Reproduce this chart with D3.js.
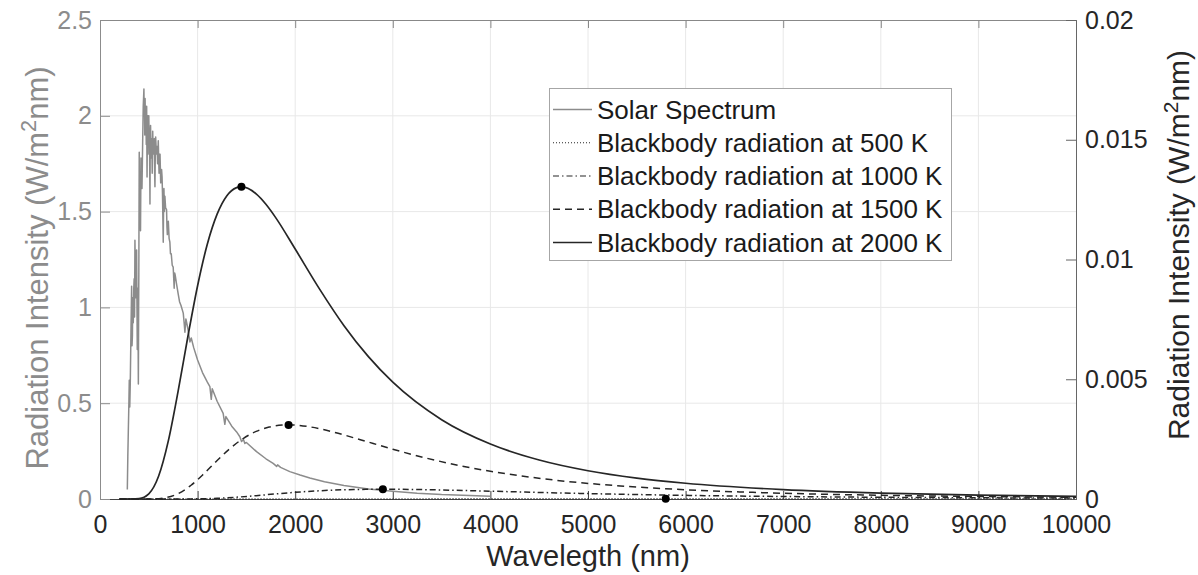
<!DOCTYPE html>
<html><head><meta charset="utf-8">
<script src="https://cdn.jsdelivr.net/npm/d3@7"></script>
<style>
body{margin:0;background:#fff}
text{font-family:"Liberation Sans",Arial,Helvetica,sans-serif}
</style>
</head><body>
<svg id="chart" width="1198" height="575"></svg>
<script>
// ---------- data ----------
const xTickValues = [0,1000,2000,3000,4000,5000,6000,7000,8000,9000,10000];
const leftTickValues = [0,0.5,1,1.5,2,2.5];
const rightTickValues = [0,0.005,0.01,0.015,0.02];
const xLabel = "Wavelegth (nm)";
const yLabelMain = "Radiation Intensity (W/m";
const yLabelSup = "2";
const yLabelEnd = "nm)";

const seriesNames = ["Solar Spectrum","Blackbody radiation at 500 K","Blackbody radiation at 1000 K","Blackbody radiation at 1500 K","Blackbody radiation at 2000 K"];

// Solar spectrum (left axis)
const solarWl  = [280,285,290,296,300,305,310,314,318,324,328,332,336,341,346,350,354,358,362,366,370,375,379,382,386,388,391,393,396,398,402,406,410,415,420,425,430,434,437,440,443,447,450,453,456,459,462,466,470,474,478,482,486,488,492,495,500,504,507,512,515,518,524,530,535,540,545,550,556,560,563,567,570,578,585,590,597,605,610,615,622,631,636,640,648,652,655,660,665,672,682,686,690,700,708,716,722,730,740,750,760,765,770,785,801,815,830,853,862,870,880,900,921,935,960,1000,1050,1100,1126,1140,1150,1200,1262,1279,1290,1350,1400,1433,1450,1470,1484,1500,1604,1700,1774,1810,1820,1850,1945,2050,2150,2300,2500,2750,3000,3250,3500,4000];
const solarVal = [0.05,0.22,0.35,0.50,0.62,0.48,0.60,0.75,0.90,1.11,0.80,0.85,1.05,0.92,1.10,1.15,0.95,1.35,1.20,1.05,1.25,1.30,1.00,0.78,1.05,1.10,0.80,0.60,1.00,1.20,1.81,1.55,1.70,1.40,1.78,1.65,1.62,1.75,1.86,1.95,2.05,2.10,2.14,2.00,2.05,1.90,2.09,1.95,2.02,1.85,2.05,1.68,1.98,2.00,1.80,1.95,2.00,1.85,1.92,1.54,1.90,1.95,1.78,1.88,1.70,1.92,1.80,1.80,1.88,1.70,1.63,1.82,1.89,1.80,1.84,1.75,1.87,1.70,1.78,1.80,1.65,1.72,1.68,1.60,1.34,1.55,1.62,1.50,1.58,1.52,1.51,1.42,1.38,1.45,1.36,1.34,1.28,1.28,1.22,1.21,1.10,1.18,1.17,1.12,1.07,1.03,1.01,0.97,0.92,0.87,0.94,0.89,0.82,0.84,0.79,0.725,0.66,0.61,0.586,0.52,0.575,0.51,0.447,0.39,0.43,0.38,0.35,0.325,0.30,0.31,0.29,0.295,0.247,0.21,0.186,0.17,0.178,0.165,0.143,0.125,0.11,0.09,0.07,0.052,0.04,0.03,0.023,0.015];

// Blackbody curves (right axis)
const bb500Wl  = [200,1600,2000,2400,2800,3200,3600,4000,4400,4800,5200,5600,5796,6400,6800,7200,8000,9000,10000];
const bb500Val = [0,0.00000002,0.00000021,0.00000092,0.00000237,0.00000439,0.00000661,0.0000087,0.0000104,0.0000116,0.0000124,0.0000127,0.00001273,0.0000124,0.000012,0.0000115,0.0000102,0.0000086,0.0000071];
const bb1000Wl  = [200,800,1000,1200,1400,1600,1800,2000,2200,2400,2600,2800,2898,3200,3400,3600,4000,4500,5000,5500,6000,7000,8000,9000,10000];
const bb1000Val = [0,0.00000056,0.0000067,0.0000296,0.0000758,0.00014,0.000212,0.000278,0.000333,0.000372,0.000396,0.000406,0.0004075,0.000398,0.000385,0.000367,0.000326,0.000274,0.000226,0.000186,0.000152,0.000104,0.0000718,0.0000509,0.0000369];
const bb1500Wl  = [200,533,667,800,933,1067,1200,1333,1467,1600,1733,1867,1932,2133,2267,2400,2667,3000,3333,3667,4000,4667,5333,6000,6667,7333,8000,9333,10000];
const bb1500Val = [0,0.0000042,0.0000507,0.000225,0.000575,0.001066,0.001607,0.002113,0.002526,0.002822,0.003004,0.003085,0.003094,0.003023,0.00292,0.002788,0.002476,0.002079,0.001717,0.00141,0.001157,0.000786,0.000545,0.000386,0.00028,0.000207,0.000156,0.0000932,0.0000743];
const bb2000Wl  = [200,400,500,600,700,800,900,1000,1100,1200,1300,1400,1449,1600,1700,1800,2000,2250,2500,2750,3000,3500,4000,4500,5000,5500,6000,7000,8000,9000,10000];
const bb2000Val = [0,0.0000179,0.000214,0.000947,0.002425,0.004494,0.006774,0.008906,0.010646,0.011892,0.012662,0.01300,0.01304,0.01274,0.012306,0.011749,0.010436,0.008763,0.007237,0.005943,0.004877,0.003312,0.002296,0.001627,0.00118,0.000873,0.000658,0.000393,0.000248,0.000164,0.000113];

// Peak markers (right axis)
const peakWl  = [5796,2898,1932,1449];
const peakVal = [0.00001273,0.0004075,0.003094,0.01304];

// ---------- drawing ----------
const svg = d3.select("#chart");
const X0=100, X1=1076, Y0=499, Y1=20;
const x = d3.scaleLinear().domain([0,10000]).range([X0,X1]);
const yL = d3.scaleLinear().domain([0,2.5]).range([Y0,Y1]);
const yR = d3.scaleLinear().domain([0,0.02]).range([Y0,Y1]);

const gray="#8c8c8c", dark="#262626", gridC="#e8e8e8";

// grid
const grid = svg.append("g");
grid.selectAll("line.v").data(xTickValues.filter(d=>d>0&&d<10000)).join("line")
  .attr("x1",d=>x(d)).attr("x2",d=>x(d)).attr("y1",Y0).attr("y2",Y1)
  .attr("stroke",gridC).attr("stroke-width",1);
grid.selectAll("line.h").data(leftTickValues.filter(d=>d>0&&d<2.5)).join("line")
  .attr("x1",X0).attr("x2",X1).attr("y1",d=>yL(d)).attr("y2",d=>yL(d))
  .attr("stroke",gridC).attr("stroke-width",1);

// axes
const fs=25;
const ff="Liberation Sans, Arial, sans-serif";
const xAxis = d3.axisBottom(x).tickValues(xTickValues).tickSize(-8).tickPadding(16).tickFormat(d=>String(d));
const gx = svg.append("g").attr("transform",`translate(0,${Y0})`).call(xAxis);
gx.select(".domain").attr("stroke","#444");
gx.selectAll(".tick line").attr("stroke","#444");
gx.selectAll("text").attr("fill",dark).attr("font-size",fs).attr("font-family",ff);

const xTop = d3.axisTop(x).tickValues(xTickValues).tickSize(-8).tickFormat("");
const gxt = svg.append("g").attr("transform",`translate(0,${Y1})`).call(xTop);
gxt.select(".domain").attr("stroke","#888");
gxt.selectAll(".tick line").attr("stroke","#888");

const yAxisL = d3.axisLeft(yL).tickValues(leftTickValues).tickSize(-10).tickPadding(8).tickFormat(d=>String(d));
const gyl = svg.append("g").attr("transform",`translate(${X0},0)`).call(yAxisL);
gyl.select(".domain").attr("stroke",gray);
gyl.selectAll(".tick line").attr("stroke",gray);
gyl.selectAll("text").attr("fill",gray).attr("font-size",fs).attr("font-family",ff);

const yAxisR = d3.axisRight(yR).tickValues(rightTickValues).tickSize(-10).tickPadding(9).tickFormat(d=>String(d));
const gyr = svg.append("g").attr("transform",`translate(${X1},0)`).call(yAxisR);
gyr.select(".domain").attr("stroke","#666");
gyr.selectAll(".tick line").attr("stroke","#666");
gyr.selectAll("text").attr("fill",dark).attr("font-size",fs).attr("font-family",ff);

// axis labels
svg.append("text").attr("x",(X0+X1)/2).attr("y",566).attr("text-anchor","middle")
  .attr("font-size",29).attr("fill",dark).text(xLabel);

function yLabel(cx, cy, color, size){
  const t = svg.append("text").attr("transform",`translate(${cx},${cy}) rotate(-90)`)
    .attr("text-anchor","middle").attr("font-size",size).attr("fill",color);
  t.append("tspan").text(yLabelMain);
  t.append("tspan").attr("baseline-shift","super").attr("font-size",size*0.7).text(yLabelSup);
  t.append("tspan").text(yLabelEnd);
}
yLabel(48, 268, gray, 31);
yLabel(1189, 245, dark, 30);

// lines
const plot = svg.append("g");
const lineL = d3.line().x(d=>x(d[0])).y(d=>yL(d[1])).curve(d3.curveLinear);
const lineR = d3.line().x(d=>x(d[0])).y(d=>yR(d[1])).curve(d3.curveMonotoneX);
const zip=(a,b)=>a.map((v,i)=>[v,b[i]]);

const styles = [
  {stroke:gray, dash:null, w:1.5, lw:1.3},
  {stroke:dark, dash:"1,2", w:1.5, lw:1.2},
  {stroke:dark, dash:"6,3,1.5,3", w:1.5, lw:1.2},
  {stroke:dark, dash:"7,5", w:1.5, lw:1.3},
  {stroke:dark, dash:null, w:1.7, lw:1.5}
];

plot.append("path").attr("d",lineL(zip(solarWl,solarVal))).attr("fill","none")
  .attr("stroke",styles[0].stroke).attr("stroke-width",styles[0].w).attr("stroke-linejoin","round");
const bbSets=[[bb500Wl,bb500Val],[bb1000Wl,bb1000Val],[bb1500Wl,bb1500Val],[bb2000Wl,bb2000Val]];
bbSets.forEach((s,i)=>{
  const st=styles[i+1];
  plot.append("path").attr("d",lineR(zip(s[0],s[1]))).attr("fill","none")
    .attr("stroke",st.stroke).attr("stroke-width",st.w).attr("stroke-dasharray",st.dash);
});
plot.selectAll("circle").data(zip(peakWl,peakVal)).join("circle")
  .attr("cx",d=>x(d[0])).attr("cy",d=>yR(d[1])).attr("r",4).attr("fill","#000");

// legend
const lg = svg.append("g");
lg.append("rect").attr("x",549.5).attr("y",88.5).attr("width",402).attr("height",172)
  .attr("fill","#fff").attr("stroke","#a6a6a6").attr("stroke-width",1);
const rowY = d3.scaleLinear().domain([0,4]).range([109.5,242.5]);
seriesNames.forEach((n,i)=>{
  const st=styles[i], yy=rowY(i);
  lg.append("line").attr("x1",553).attr("x2",592).attr("y1",yy).attr("y2",yy)
    .attr("stroke",st.stroke).attr("stroke-width",st.lw).attr("stroke-dasharray",st.dash);
  lg.append("text").attr("x",597).attr("y",yy).attr("dy","0.35em").attr("font-size",26)
    .attr("fill","#1a1a1a").text(n);
});
</script>
</body></html>
